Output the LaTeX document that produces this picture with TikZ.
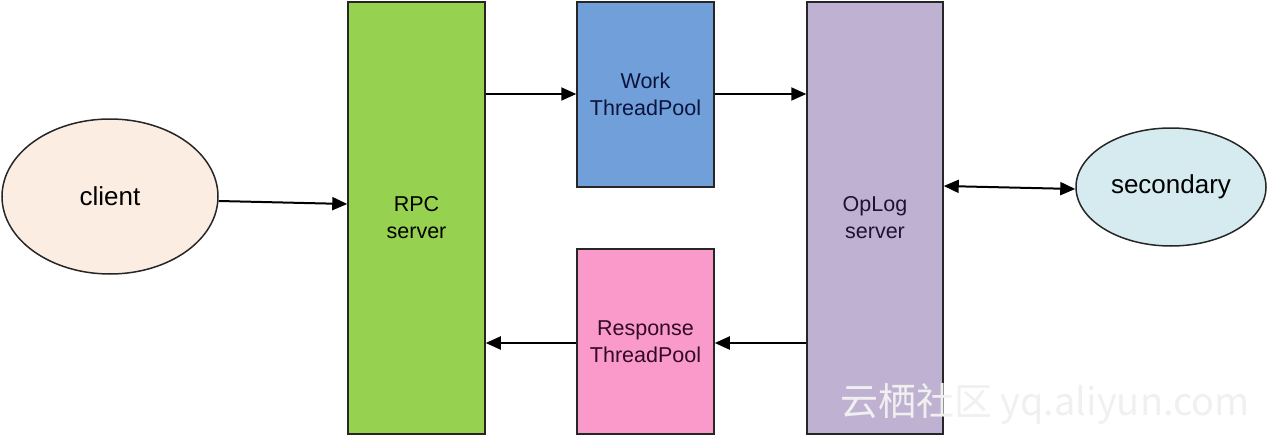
\documentclass[tikz,border=0pt]{standalone}
\usepackage{fontspec}
\setmainfont{Liberation Sans}
\newfontfamily\cjkfont{Noto Sans CJK SC}
\usetikzlibrary{arrows.meta,shapes.geometric}
\definecolor{rpcgreen}{HTML}{96D150}
\definecolor{workblue}{HTML}{719FD9}
\definecolor{resppink}{HTML}{FA9ACB}
\definecolor{oplogpurple}{HTML}{BFB1D1}
\definecolor{clientfill}{HTML}{FCEDE3}
\definecolor{secfill}{HTML}{D5EBF0}
\tikzset{
  box/.style={draw=black!85, line width=1.5pt, inner sep=0pt, align=center, font=\fontsize{21.5}{27}\selectfont},
  oval/.style={draw=black!85, line width=1.5pt, ellipse, inner sep=0pt, font=\fontsize{26}{30}\selectfont},
  conn/.style={line width=2pt, -{Triangle[length=15pt,width=13pt]}},
  bconn/.style={line width=2pt, {Triangle[length=15pt,width=13pt]}-{Triangle[length=15pt,width=13pt]}},
}
\begin{document}
\begin{tikzpicture}[x=1pt,y=-1pt]
\useasboundingbox (0,0) rectangle (1269,436);
\node[box, fill=rpcgreen, minimum width=137pt, minimum height=432pt, text=black] (rpc) at (416.5,218) {RPC\\server};
\node[box, fill=workblue, minimum width=137pt, minimum height=185pt, text={rgb,255:red,10;green,20;blue,60}] (work) at (645.5,94.5) {Work\\ThreadPool};
\node[box, fill=resppink, minimum width=137pt, minimum height=185pt, text={rgb,255:red,50;green,10;blue,40}] (resp) at (645.5,341.5) {Response\\ThreadPool};
\node[box, fill=oplogpurple, minimum width=136pt, minimum height=432pt, text={rgb,255:red,30;green,20;blue,50}] (oplog) at (875,218) {OpLog\\server};
\node[oval, fill=clientfill, minimum width=216pt, minimum height=155pt] (client) at (110,196.5) {client};
\node[oval, fill=secfill, minimum width=190pt, minimum height=118pt] (sec) at (1171,187) {secondary};
\draw[conn] (client.east |- 0,201) -- (rpc.west |- 0,204);
\draw[conn] (rpc.east |- 0,94) -- (work.west |- 0,94);
\draw[conn] (work.east |- 0,94) -- (oplog.west |- 0,94);
\draw[conn] (oplog.west |- 0,343) -- (resp.east |- 0,343);
\draw[conn] (resp.west |- 0,343) -- (rpc.east |- 0,343);
\draw[bconn] (oplog.east |- 0,186) -- (sec.west |- 0,189);
\node[text=black!6, font=\cjkfont\fontsize{38}{42}\selectfont, anchor=west, inner sep=0pt] (wm) at (840,404) {云栖社区 yq.aliyun.com};
\end{tikzpicture}
\end{document}
